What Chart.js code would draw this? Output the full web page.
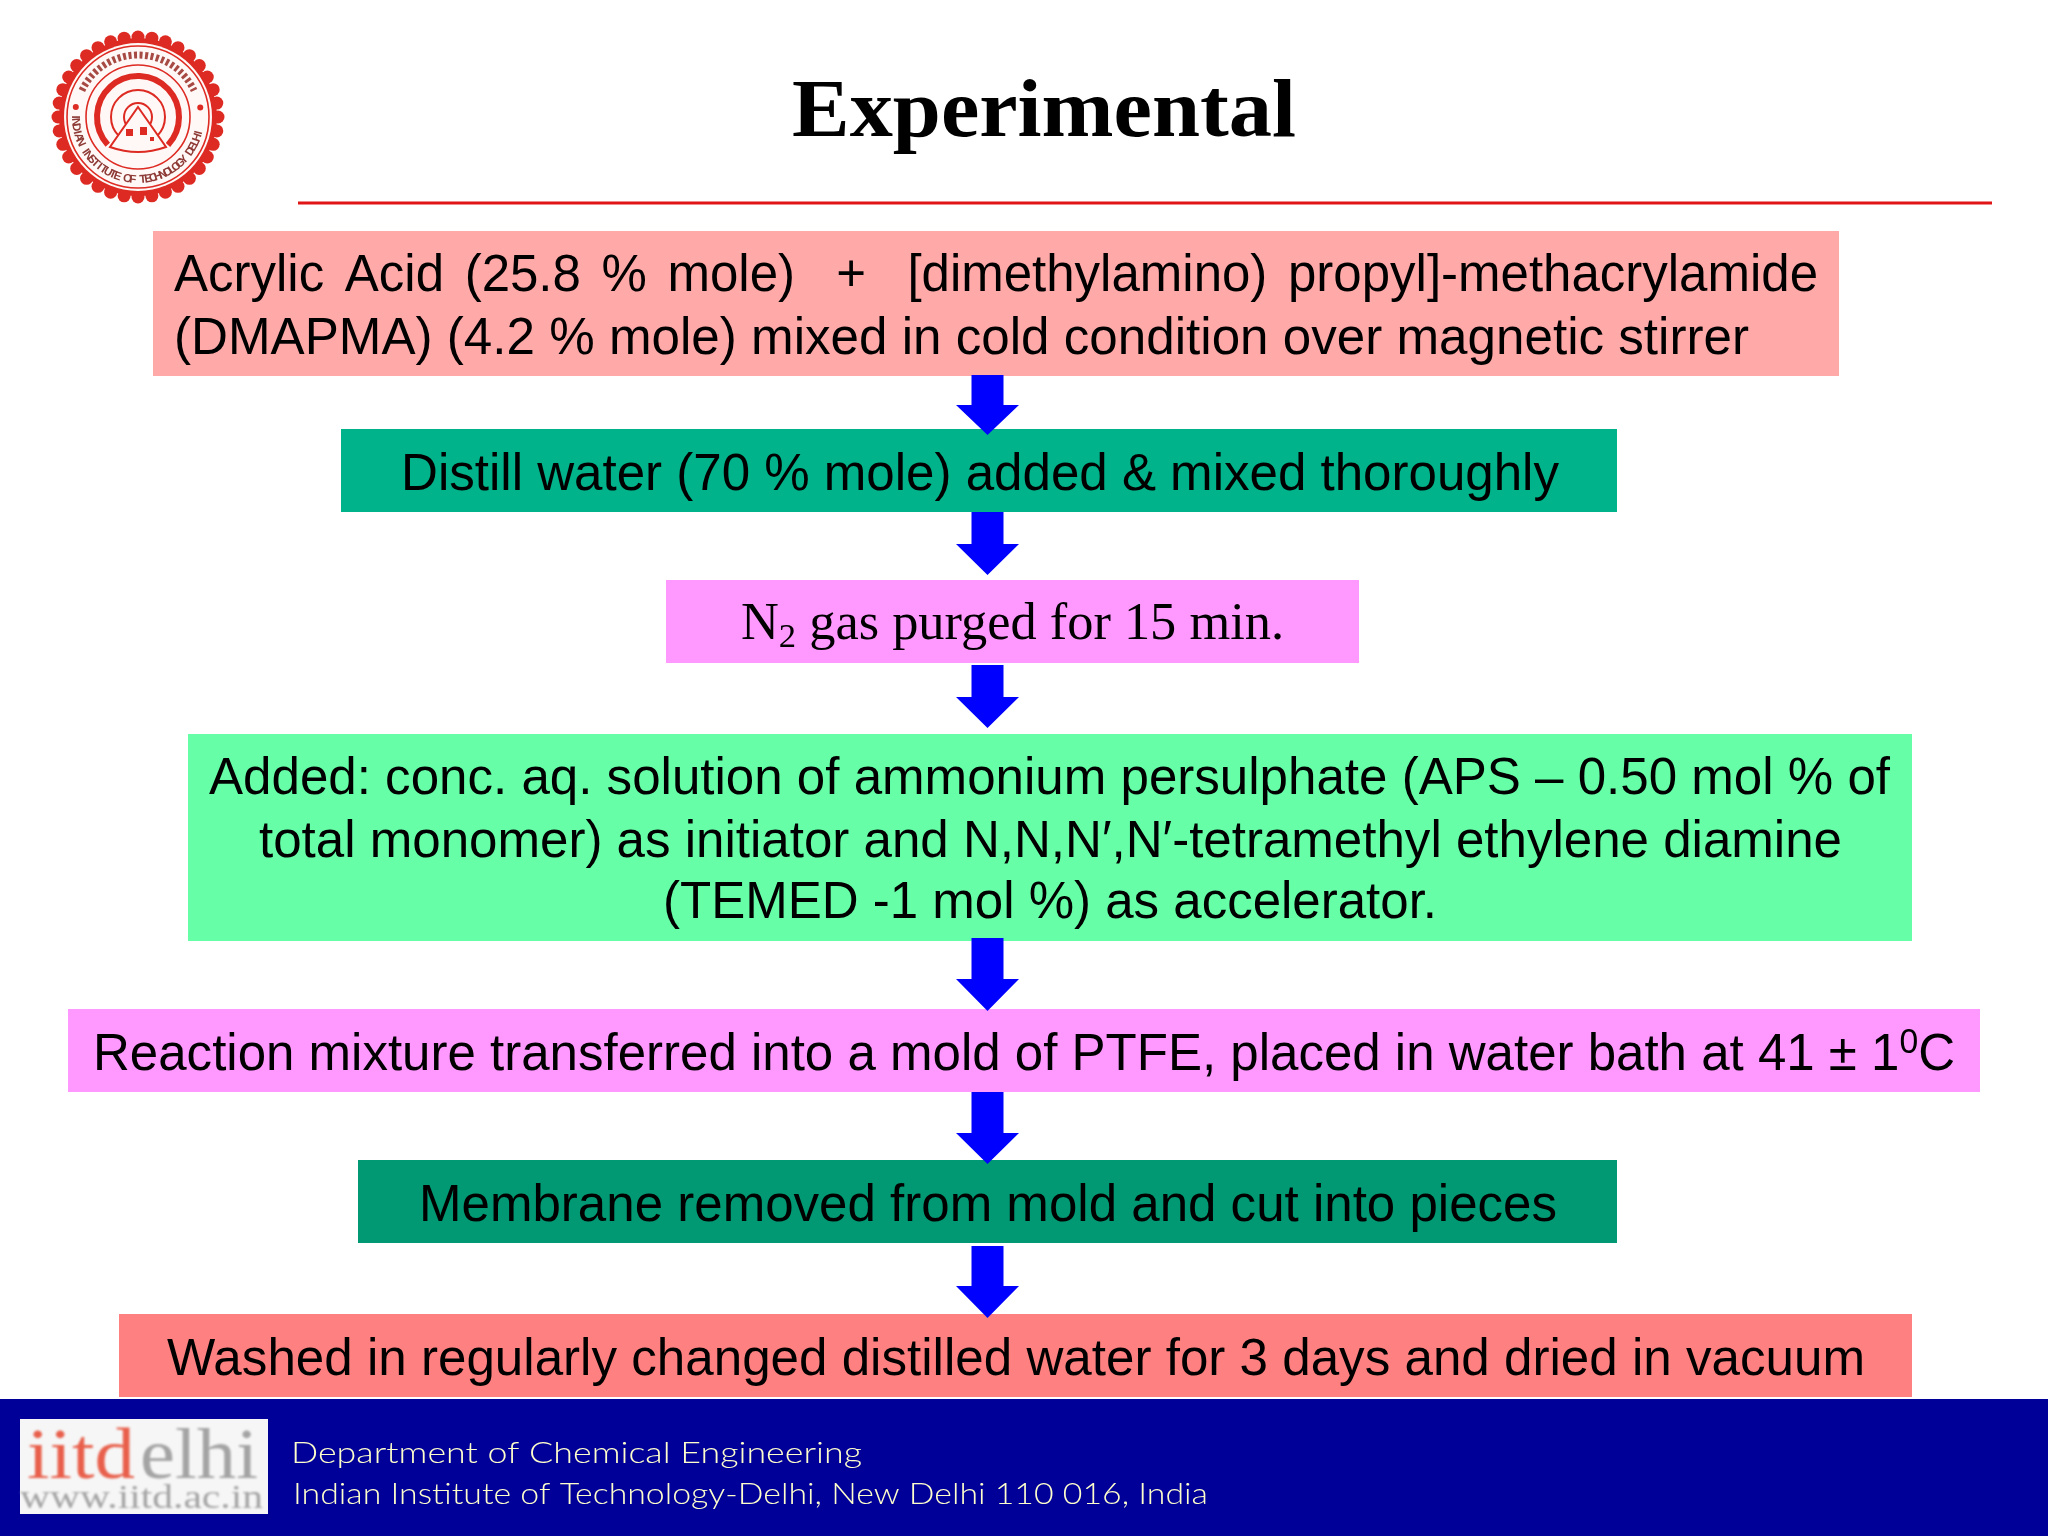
<!DOCTYPE html>
<html>
<head>
<meta charset="utf-8">
<title>Experimental</title>
<script src="https://cdn.jsdelivr.net/npm/chart.js@4/dist/chart.umd.min.js"></script>
<style>
html, body { margin: 0; padding: 0; background: #fff; }
canvas { display: block; }
</style>
</head>
<body>
<canvas id="slide" width="2048" height="1536"></canvas>
<script>
// Slide text
var slideTitle = 'Experimental';
var stepLines = [
    'Acrylic Acid (25.8 % mole)  +  [dimethylamino) propyl]-methacrylamide',
    '(DMAPMA) (4.2 % mole) mixed in cold condition over magnetic stirrer',
    'Distill water (70 % mole) added & mixed thoroughly',
    'N~2~ gas purged for 15 min.',
    'Added: conc. aq. solution of ammonium persulphate (APS \u2013 0.50 mol % of',
    'total monomer) as initiator and N,N,N\u2032,N\u2032-tetramethyl ethylene diamine',
    '(TEMED -1 mol %) as accelerator.',
    'Reaction mixture transferred into a mold of PTFE, placed in water bath at 41 \u00b1 1^0^C',
    'Membrane removed from mold and cut into pieces',
    'Washed in regularly changed distilled water for 3 days and dried in vacuum'
];
var footerLines = [
    'Department of Chemical Engineering',
    'Indian Institute of Technology-Delhi, New Delhi 110 016, India'
];

// Flow boxes, in slide pixels
var boxLeft = [153, 341, 666, 188, 68, 358, 119];
var boxRight = [1839, 1617, 1359, 1912, 1980, 1617, 1912];
var boxTop = [231, 429, 580, 734, 1009, 1160, 1314];
var boxBottom = [376, 512, 663, 941, 1092, 1243, 1397];
var boxColors = ['#FFA9A9', '#00B38A', '#FF99FF', '#66FFA8', '#FF99FF', '#009973', '#FF8080'];

// Arrows between the boxes
var arrowTop = [375, 512, 665, 938, 1092, 1246];
var arrowNeck = [405, 544, 697, 979, 1133, 1286];
var arrowTip = [435, 575, 728, 1011, 1164, 1318];

// Where each text line sits
var lineLeft = [174, 174, 401, 741, 209, 259, 663, 93, 419, 167];
var lineRight = [1818, 1749, 1559, 1284, 1890, 1842, 1437, 1955, 1557, 1865];
var lineBase = [291, 354, 490, 639, 794, 857, 918, 1070, 1221, 1375];

function arrowShape(i) {
    var cx = 987.5;
    return [
        { x: cx - 16, y: arrowTop[i] }, { x: cx + 16, y: arrowTop[i] },
        { x: cx + 16, y: arrowNeck[i] }, { x: cx + 31.5, y: arrowNeck[i] },
        { x: cx, y: arrowTip[i] },
        { x: cx - 31.5, y: arrowNeck[i] }, { x: cx - 16, y: arrowNeck[i] },
        { x: cx - 16, y: arrowTop[i] }
    ];
}

function barDataset(left, right, top, bottom, color, order) {
    return {
        type: 'bar',
        indexAxis: 'y',
        grouped: false,
        data: [{ x: [left, right], y: (top + bottom) / 2 }],
        barThickness: bottom - top,
        backgroundColor: color,
        borderWidth: 0,
        inflateAmount: 0,
        order: order
    };
}

var datasets = [];
boxLeft.forEach(function (left, i) {
    datasets.push(barDataset(left, boxRight[i], boxTop[i], boxBottom[i], boxColors[i], 5));
});
// footer band and the badge background
datasets.push(barDataset(0, 2048, 1399, 1536, '#000099', 5));
datasets.push(barDataset(20, 268, 1419, 1514, '#F6F6F6', 4));

arrowTop.forEach(function (top, i) {
    datasets.push({
        type: 'scatter',
        showLine: true,
        data: arrowShape(i),
        fill: 'shape',
        backgroundColor: '#0000FF',
        borderColor: '#0000FF',
        borderWidth: 0,
        pointRadius: 0,
        tension: 0,
        order: 1
    });
});

// Red rule under the title
datasets.push({
    type: 'scatter',
    showLine: true,
    data: [{ x: 298, y: 203 }, { x: 1992, y: 203 }],
    borderColor: '#E01515',
    borderWidth: 3,
    pointRadius: 0,
    fill: false,
    order: 1
});

// Draw a line with ^sup^ and ~sub~ runs, stretched to run from left to right
function drawRuns(ctx, text, left, right, base, size, family, weight) {
    var parts = text.split(/(\^[^^]+\^|~[^~]+~)/).filter(Boolean);
    var font = function (px) { return (weight || '') + ' ' + px + 'px ' + family; };
    var measure = function (p) {
        var small = p[0] === '^' || p[0] === '~';
        ctx.font = font(small ? size * 0.66 : size);
        return ctx.measureText(small ? p.slice(1, -1) : p).width;
    };
    var total = parts.reduce(function (sum, p) { return sum + measure(p); }, 0);
    ctx.save();
    ctx.translate(left, base);
    ctx.scale((right - left) / total, 1);
    var x = 0;
    parts.forEach(function (p) {
        var w = measure(p);
        if (p[0] === '^') ctx.fillText(p.slice(1, -1), x, -size * 0.33);
        else if (p[0] === '~') ctx.fillText(p.slice(1, -1), x, size * 0.16);
        else ctx.fillText(p, x, 0);
        x += w;
    });
    ctx.restore();
}

// Justified line: the slack goes into the spaces instead of the letters
function drawJustified(ctx, text, left, right, base, size, family) {
    ctx.save();
    ctx.font = size + 'px ' + family;
    var spaces = text.split(' ').length - 1;
    ctx.wordSpacing = ((right - left - ctx.measureText(text).width) / spaces) + 'px';
    ctx.fillText(text, left, base);
    ctx.restore();
}

function drawLogo(ctx, cx, cy) {
    var red = '#DD2A22';
    ctx.save();
    ctx.filter = 'blur(0.7px)';
    ctx.fillStyle = red;
    ctx.beginPath();
    ctx.arc(cx, cy, 79, 0, Math.PI * 2);
    ctx.fill();
    for (var i = 0; i < 36; i++) {
        var a = i / 36 * Math.PI * 2;
        ctx.beginPath();
        ctx.arc(cx + Math.cos(a) * 80, cy + Math.sin(a) * 80, 6.5, 0, Math.PI * 2);
        ctx.fill();
    }
    ctx.fillStyle = '#FFF8F6';
    ctx.beginPath();
    ctx.arc(cx, cy, 74, 0, Math.PI * 2);
    ctx.fill();

    var ring = function (r, w, from, to) {
        ctx.beginPath();
        ctx.arc(cx, cy, r, from === undefined ? 0 : from, to === undefined ? Math.PI * 2 : to);
        ctx.lineWidth = w;
        ctx.strokeStyle = red;
        ctx.stroke();
    };
    ring(71, 1.6);
    ring(52, 1.6);
    ring(41, 6, 2.4, Math.PI * 2 + 0.75);
    ring(27, 2);
    ring(14, 2);

    // Hindi legend along the top, too small to read
    ctx.beginPath();
    ctx.arc(cx, cy, 62, Math.PI * 1.14, Math.PI * 1.86);
    ctx.lineWidth = 7;
    ctx.strokeStyle = '#A84A44';
    ctx.setLineDash([3, 2.5]);
    ctx.stroke();
    ctx.setLineDash([]);

    ctx.fillStyle = red;
    [3.3, 6.13].forEach(function (a) {
        ctx.beginPath();
        ctx.arc(cx + Math.cos(a) * 63, cy + Math.sin(a) * 63, 3, 0, Math.PI * 2);
        ctx.fill();
    });

    // Mountain with the waves at its foot
    ctx.beginPath();
    ctx.moveTo(cx, cy - 10);
    ctx.lineTo(cx + 28, cy + 30);
    ctx.quadraticCurveTo(cx, cy + 40, cx - 28, cy + 30);
    ctx.closePath();
    ctx.fillStyle = '#FFF8F6';
    ctx.fill();
    ctx.lineWidth = 2;
    ctx.strokeStyle = red;
    ctx.stroke();
    ctx.fillStyle = red;
    ctx.fillRect(cx - 12, cy + 12, 7, 7);
    ctx.fillRect(cx + 2, cy + 10, 7, 8);
    ctx.fillRect(cx + 12, cy + 20, 4, 4);

    // Curved English legend
    var legend = 'INDIAN INSTITUTE OF TECHNOLOGY DELHI';
    ctx.font = 'bold 11.5px "Liberation Sans"';
    ctx.fillStyle = '#8E3A36';
    ctx.textAlign = 'center';
    for (var k = 0; k < legend.length; k++) {
        var t = Math.PI * (1.0 - k / (legend.length - 1) * 0.92);
        ctx.save();
        ctx.translate(cx + Math.cos(t) * 63, cy + Math.sin(t) * 63);
        ctx.rotate(t - Math.PI / 2);
        ctx.fillText(legend[k], 0, 3);
        ctx.restore();
    }
    ctx.restore();
}

var slideText = {
    id: 'slideText',
    afterDatasetsDraw: function (chart) {
        var ctx = chart.ctx;
        var px = function (v) { return chart.scales.x.getPixelForValue(v); };
        var py = function (v) { return chart.scales.y.getPixelForValue(v); };

        ctx.save();
        ctx.textBaseline = 'alphabetic';
        ctx.fillStyle = '#000000';
        drawRuns(ctx, slideTitle, px(792), px(1296), py(136), 82, '"Liberation Serif"', 'bold');

        stepLines.forEach(function (line, i) {
            var serif = line.indexOf('N~2~') === 0;
            if (i === 0) {
                drawJustified(ctx, line, px(lineLeft[i]), px(lineRight[i]), py(lineBase[i]), 51, '"Liberation Sans"');
                return;
            }
            drawRuns(ctx, line, px(lineLeft[i]), px(lineRight[i]), py(lineBase[i]), 52,
                serif ? '"Liberation Serif"' : '"Liberation Sans"');
        });

        ctx.fillStyle = '#FFFFCC';
        drawRuns(ctx, footerLines[0], px(291), px(862), py(1463), 30, 'Lato', '300');
        drawRuns(ctx, footerLines[1], px(293), px(1208), py(1504), 30, 'Lato', '300');

        // iitdelhi badge
        ctx.save();
        ctx.filter = 'blur(0.8px)';
        ctx.fillStyle = '#E8604C';
        drawRuns(ctx, 'iitd', px(27), px(135), py(1478), 72, '"Liberation Serif"');
        ctx.fillStyle = '#A4A4A4';
        drawRuns(ctx, 'elhi', px(140), px(258), py(1478), 72, '"Liberation Serif"');
        drawRuns(ctx, 'www.iitd.ac.in', px(20), px(263), py(1508), 34, '"Liberation Serif"');
        ctx.restore();

        drawLogo(ctx, px(138), py(117));
        ctx.restore();
    }
};

new Chart(document.getElementById('slide').getContext('2d'), {
    type: 'bar',
    data: { datasets: datasets },
    plugins: [slideText],
    options: {
        responsive: false,
        animation: false,
        events: [],
        layout: { padding: 0 },
        plugins: { legend: { display: false }, tooltip: { enabled: false } },
        scales: {
            x: { type: 'linear', min: 0, max: 2048, offset: false, display: false },
            y: { type: 'linear', min: 0, max: 1536, reverse: true, offset: false, display: false }
        }
    }
});
</script>
</body>
</html>
